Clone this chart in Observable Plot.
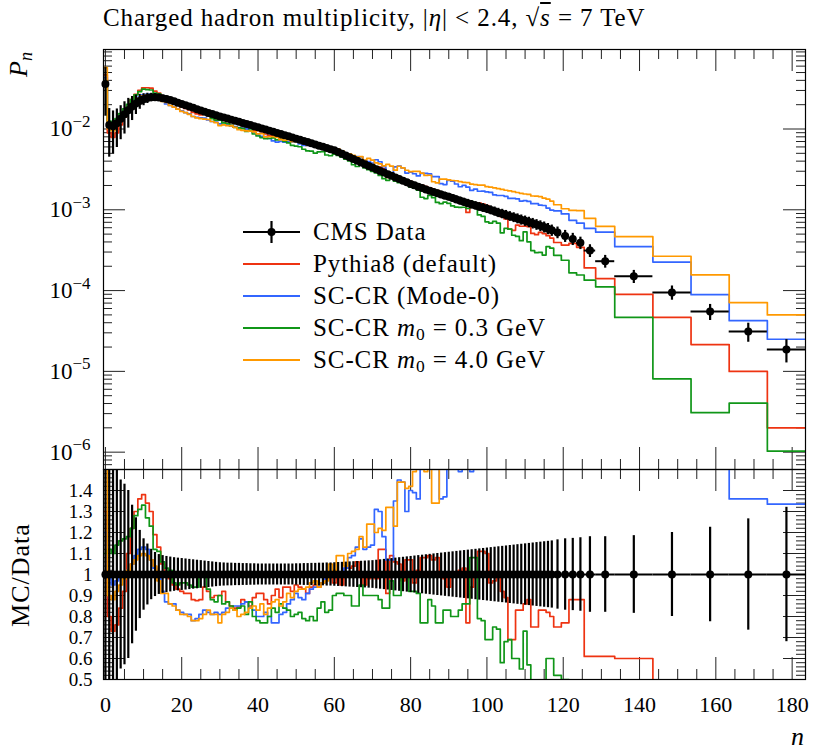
<!DOCTYPE html>
<html><head><meta charset="utf-8">
<script src="https://cdn.jsdelivr.net/npm/d3@7"></script>
<script src="https://cdn.jsdelivr.net/npm/@observablehq/plot@0.6"></script>
<style>
html,body{margin:0;padding:0;background:#fff;}
#wrap{position:relative;width:830px;height:750px;overflow:hidden;font-family:"Liberation Serif",serif;color:#000;}
#wrap svg{position:absolute;left:0;}
.lbl{position:absolute;white-space:nowrap;line-height:1;left:0;top:0;transform-origin:0 0;}
#title{left:103px;top:5px;font-size:25px;letter-spacing:0.9px;transform:none;}
.ov{text-decoration:overline;}
.leg{position:absolute;left:243px;height:32px;display:flex;align-items:center;font-size:25px;letter-spacing:0.9px;white-space:nowrap;}
.leg svg{position:static !important;margin-right:13px;}
sub{font-size:70%;vertical-align:-0.25em;line-height:0;}
</style></head>
<body><div id="wrap"></div>
<script>
// ---------------- data ----------------
const unitN = d3.range(0, 118);                       // unit bins n = 0..117
const wideEdges = [117.5,119.5,121.5,123.5,125.5,128.5,133.5,143.5,153.5,163.5,173.5,183.5];
const binLo = [...unitN.map(n => n - 0.5), ...wideEdges.slice(0, -1)];
const binHi = [...unitN.map(n => n + 0.5), ...wideEdges.slice(1)];

const dataP = [
 0.036, 0.0112, 0.0108, 0.0118, 0.0134, 0.0152, 0.0171, 0.0190, 0.0207, 0.0222,
 0.0234, 0.0242, 0.0247, 0.0248, 0.0246, 0.0241, 0.0235, 0.0228, 0.0220, 0.0212,
 0.0204, 0.0197, 0.0190, 0.0183, 0.0176, 0.0170, 0.0164, 0.0158, 0.0153, 0.0148,
 0.0143, 0.01387, 0.01345, 0.01304, 0.01264, 0.01226, 0.01189, 0.01153, 0.01118, 0.01084,
 0.0105, 0.01017, 0.00985, 0.00954, 0.00924, 0.00895, 0.00866, 0.00838, 0.00811, 0.00785,
 0.0076, 0.00735, 0.00711, 0.00688, 0.00665, 0.00643, 0.00622, 0.00601, 0.00581, 0.00562,
 0.00544, 0.00518, 0.00493, 0.00469, 0.00447, 0.00425, 0.00404, 0.00385, 0.00366, 0.00349,
 0.00333, 0.003176, 0.003027, 0.002888, 0.00276, 0.002637, 0.002513, 0.002402, 0.00229, 0.00219,
 0.002088, 0.002009, 0.001929, 0.001858, 0.001787, 0.001715, 0.00166, 0.001604, 0.001546, 0.001497,
 0.001447, 0.001397, 0.001345, 0.001294, 0.00125, 0.001206, 0.001166, 0.001127, 0.001094, 0.001061,
 0.001028, 0.000993, 0.000958, 0.000922, 0.000894, 0.000864, 0.000834, 0.000807, 0.00078, 0.000754,
 0.00073, 0.000705, 0.00068, 0.000656, 0.000633, 0.000611, 0.000584, 0.000558,
 0.000525, 0.000475, 0.000436, 0.000390, 0.000313, 0.000231, 0.000150, 0.0000950, 0.0000550, 0.0000312, 0.0000187
];
const dataErr = [
 0.60, 0.60, 0.55, 0.50, 0.45, 0.43, 0.40, 0.33, 0.27, 0.21,
 0.17, 0.145, 0.12, 0.105, 0.095, 0.09, 0.086, 0.083, 0.08, 0.078,
 0.076, 0.074, 0.072, 0.07, 0.068, 0.066, 0.064, 0.062, 0.06, 0.058,
 0.056, 0.055, 0.054, 0.054, 0.053, 0.053, 0.052, 0.052, 0.051, 0.051,
 0.05, 0.05, 0.05, 0.05, 0.05, 0.05, 0.05, 0.05, 0.05, 0.05,
 0.051, 0.051, 0.052, 0.052, 0.053, 0.053, 0.054, 0.054, 0.055, 0.055,
 0.056, 0.057, 0.058, 0.059, 0.06, 0.061, 0.062, 0.063, 0.064, 0.065,
 0.066, 0.068, 0.07, 0.072, 0.074, 0.076, 0.078, 0.08, 0.082, 0.084,
 0.086, 0.088, 0.09, 0.092, 0.094, 0.096, 0.098, 0.10, 0.102, 0.104,
 0.106, 0.108, 0.11, 0.112, 0.114, 0.116, 0.118, 0.12, 0.122, 0.124,
 0.126, 0.128, 0.13, 0.132, 0.134, 0.136, 0.138, 0.14, 0.142, 0.144,
 0.146, 0.148, 0.15, 0.152, 0.154, 0.156, 0.158, 0.16,
 0.165, 0.17, 0.172, 0.175, 0.18, 0.18, 0.185, 0.20, 0.225, 0.265, 0.32
];
// MC / Data ratios
const ratioPythia = [
 1.30, 0.80, 0.73, 0.76, 0.84, 0.92, 1.10, 1.22, 1.30, 1.36,
 1.38, 1.34, 1.30, 1.19, 1.13, 1.05, 1.01, 0.98, 0.95, 0.93,
 0.92, 0.91, 0.91, 0.88, 0.876, 0.88, 0.94, 0.92, 0.89, 0.90,
 0.90, 0.92, 0.87, 0.85, 0.84, 0.845, 0.88, 0.87, 0.85, 0.89,
 0.91, 0.91, 0.88, 0.86, 0.90, 0.93, 0.89, 0.94, 0.94, 0.92,
 0.95, 0.94, 0.93, 0.91, 0.94, 0.95, 0.94, 0.96, 0.98, 1.00,
 0.96, 0.99, 0.95, 1.03, 1.03, 1.04, 1.06, 1.00, 0.95, 0.98,
 1.01, 0.98, 1.12, 1.12, 0.91, 1.09, 1.06, 1.05, 0.97, 1.07,
 1.07, 0.96, 1.02, 1.08, 1.08, 1.09, 1.07, 1.08, 1.01, 0.98,
 0.94, 1.00, 0.99, 1.02, 1.03, 0.77, 0.94, 0.99, 1.11, 1.11,
 1.10, 0.96, 0.97, 0.99, 0.92, 0.89, 0.69, 0.69, 0.83, 0.83,
 0.86, 0.88, 0.75, 0.75, 0.83, 0.83, 0.82, 0.80,
 0.75, 0.77, 0.88, 0.88, 0.61, 0.61, 0.60, 0.49, 0.39, 0.32, 0.107
];
const ratioMode0 = [
 1.20, 0.98, 0.95, 0.97, 0.99, 1.00, 1.02, 1.05, 1.09, 1.12,
 1.13, 1.12, 1.07, 1.03, 0.99, 0.92, 0.87, 0.86, 0.86, 0.83,
 0.82, 0.81, 0.81, 0.78, 0.79, 0.81, 0.83, 0.82, 0.81, 0.82,
 0.81, 0.82, 0.84, 0.84, 0.85, 0.85, 0.86, 0.87, 0.84, 0.83,
 0.80, 0.80, 0.82, 0.80, 0.77, 0.77, 0.81, 0.82, 0.86, 0.88,
 0.91, 0.89, 0.88, 0.91, 0.93, 0.94, 0.95, 0.96, 1.00, 1.01,
 1.00, 0.99, 1.01, 1.03, 1.08, 1.09, 1.13, 1.17, 1.12, 1.13,
 1.14, 1.31, 1.30, 1.18, 1.07, 1.07, 1.35, 1.45, 1.44, 1.30,
 1.40, 1.39, 1.36, 1.52, 1.58, 1.62, 1.55, 1.60, 1.36, 1.37,
 1.60, 1.62, 1.55, 1.49, 1.60, 1.58, 1.49, 1.60, 1.55, 1.60,
 1.62, 1.65, 1.60, 1.63, 1.68, 1.70, 1.66, 1.72, 1.75, 1.70,
 1.78, 1.80, 1.75, 1.82, 1.80, 1.85, 1.80, 1.78,
 1.85, 1.87, 1.70, 1.75, 1.88, 2.29, 2.33, 2.37, 1.62, 1.36, 1.335
];
const ratioM03 = [
 1.10, 1.12, 1.10, 1.14, 1.16, 1.17, 1.18, 1.22, 1.28, 1.31,
 1.33, 1.27, 1.23, 1.12, 1.11, 1.06, 1.03, 1.02, 0.96, 0.95,
 0.96, 0.96, 0.95, 0.94, 0.94, 0.99, 0.99, 0.93, 0.88, 0.87,
 0.90, 0.86, 0.87, 0.85, 0.83, 0.84, 0.85, 0.81, 0.87, 0.80,
 0.78, 0.77, 0.77, 0.80, 0.84, 0.82, 0.86, 0.84, 0.83, 0.80,
 0.81, 0.82, 0.79, 0.78, 0.80, 0.78, 0.84, 0.87, 0.82, 0.83,
 0.90, 0.91, 0.91, 0.90, 0.90, 0.85, 0.85, 0.95, 0.90, 0.90,
 0.90, 0.90, 0.88, 0.84, 0.84, 0.97, 0.90, 0.90, 0.99, 0.99,
 0.92, 0.92, 0.91, 0.77, 0.77, 0.88, 0.85, 0.77, 0.77, 0.83,
 0.83, 0.80, 0.80, 0.83, 0.86, 0.86, 1.08, 1.08, 0.79, 0.78,
 0.69, 0.69, 0.75, 0.74, 0.58, 0.68, 0.69, 0.60, 0.60, 0.55,
 0.73, 0.57, 0.46, 0.45, 0.47, 0.45, 0.60, 0.60,
 0.52, 0.50, 0.38, 0.40, 0.43, 0.48, 0.31, 0.085, 0.056, 0.13, 0.055
];
const ratioM40 = [
 1.60, 0.90, 0.88, 0.92, 0.95, 0.98, 1.02, 1.05, 1.07, 1.09,
 1.10, 1.09, 1.07, 1.04, 0.97, 0.91, 0.91, 0.86, 0.85, 0.83,
 0.81, 0.81, 0.80, 0.78, 0.78, 0.79, 0.81, 0.83, 0.81, 0.81,
 0.77, 0.81, 0.82, 0.84, 0.83, 0.80, 0.81, 0.82, 0.84, 0.85,
 0.83, 0.86, 0.81, 0.84, 0.87, 0.88, 0.85, 0.87, 0.91, 0.89,
 0.92, 0.93, 0.93, 0.94, 0.96, 0.97, 0.94, 0.96, 0.97, 1.05,
 1.02, 1.09, 1.09, 1.04, 1.10, 1.11, 1.12, 1.18, 1.13, 1.24,
 1.24, 1.20, 1.22, 1.21, 1.32, 1.32, 1.23, 1.44, 1.44, 1.41,
 1.42, 1.49, 1.55, 1.53, 1.49, 1.56, 1.34, 1.34, 1.55, 1.60,
 1.62, 1.65, 1.70, 1.72, 1.75, 1.80, 1.78, 1.82, 1.85, 1.90,
 1.88, 1.92, 1.95, 1.98, 2.00, 2.02, 2.05, 2.08, 2.10, 2.12,
 2.15, 2.20, 2.18, 2.25, 2.30, 2.28, 2.32, 2.30,
 2.20, 2.17, 2.25, 2.50, 2.50, 2.70, 3.10, 2.80, 2.85, 2.28, 2.67
];
const seriesNames = ["Pythia8 (default)", "SC-CR (Mode-0)", "SC-CR <i>m</i><sub>0</sub> = 0.3 GeV", "SC-CR <i>m</i><sub>0</sub> = 4.0 GeV"];
const seriesColors = ["#EE3311", "#3366FF", "#109618", "#FF9900"];
const seriesRatios = [ratioPythia, ratioMode0, ratioM03, ratioM40];
const dataName = "CMS Data";
const xTickValues = [0, 20, 40, 60, 80, 100, 120, 140, 160, 180];
const yTickTop = [1e-6, 1e-5, 1e-4, 1e-3, 1e-2];
const yTickRatio = [0.5, 0.6, 0.7, 0.8, 0.9, 1, 1.1, 1.2, 1.3, 1.4];
const yTickRatioLabels = ["0.5", "0.6", "0.7", "0.8", "0.9", "1", "1.1", "1.2", "1.3", "1.4"];

// ---------------- derived tables ----------------
const bins = dataP.map((p, i) => ({lo: binLo[i], hi: binHi[i], x: (binLo[i] + binHi[i]) / 2, p, e: dataErr[i]}));
function steps(vals) {
  const pts = [];
  vals.forEach((v, i) => { pts.push({x: binLo[i], y: v}, {x: binHi[i], y: v}); });
  return pts;
}
const mcTop = seriesRatios.map(r => r.map((v, i) => v * dataP[i]));

// tick positions (frame ticks, inward, on all four sides)
const xMinor = d3.range(5, 184, 5).filter(d => d % 20 !== 0);
const yMinorTop = [];
for (let k = -7; k <= -1; k++) for (let m = 2; m <= 9; m++) { const v = m * Math.pow(10, k); if (v > 6.1e-7 && v < 0.0964) yMinorTop.push(v); }
const yMajRatio = d3.range(0, 11).map(i => 0.5 + i / 10);
const yMinRatio = d3.range(0, 51).map(i => 0.5 + i / 50);

const W = 830, ML = 103, MR = 25, innerW = W - ML - MR;
const topH = 469, topMT = 49, topInner = topH - topMT;
const botH = 281, botMB = 71, botInner = botH - botMB;
const xDomain = [-0.5, 183.5];
const tickColor = "#222";

function xFrameTicks(inner) {
  return [
    Plot.tickX(xTickValues, {x: d => d, insetBottom: inner - 22, stroke: tickColor}),
    Plot.tickX(xTickValues, {x: d => d, insetTop: inner - 22, stroke: tickColor}),
    Plot.tickX(xMinor, {x: d => d, insetBottom: inner - 10, stroke: tickColor}),
    Plot.tickX(xMinor, {x: d => d, insetTop: inner - 10, stroke: tickColor})
  ];
}
function yFrameTicks(maj, min) {
  return [
    Plot.tickY(maj, {y: d => d, insetRight: innerW - 22, stroke: tickColor}),
    Plot.tickY(maj, {y: d => d, insetLeft: innerW - 22, stroke: tickColor}),
    Plot.tickY(min, {y: d => d, insetRight: innerW - 9, stroke: tickColor}),
    Plot.tickY(min, {y: d => d, insetLeft: innerW - 9, stroke: tickColor})
  ];
}
const style = {fontFamily: "'Liberation Serif', serif", fontSize: "22px", background: "transparent", overflow: "visible", color: "#000"};

const topPlot = Plot.plot({
  width: W, height: topH, marginTop: topMT, marginBottom: 0, marginLeft: ML, marginRight: MR,
  x: {domain: xDomain, axis: null, label: null},
  y: {type: "log", domain: [6.1e-7, 0.0964], label: null},
  style,
  marks: [
    ...xFrameTicks(topInner),
    ...yFrameTicks(yTickTop, yMinorTop),
    ...mcTop.map((vals, i) => Plot.line(steps(vals), {x: "x", y: "y", stroke: seriesColors[i], strokeWidth: 1.7, clip: true})),
    Plot.ruleX(bins, {x: "x", y1: d => d.p * (1 - d.e), y2: d => d.p * (1 + d.e), stroke: "#000", strokeWidth: 2.2, clip: true}),
    Plot.ruleY(bins, {y: "p", x1: "lo", x2: "hi", stroke: "#000", strokeWidth: 2}),
    Plot.dot(bins, {x: "x", y: "p", r: 4, fill: "#000"}),
    Plot.axisY({ticks: yTickTop, tickSize: 0, tickPadding: 13, label: null, fontSize: 23, tickFormat: d => String(Math.round(Math.log10(d)))}),
    Plot.frame({stroke: "#000", strokeWidth: 1.2})
  ]
});

const botPlot = Plot.plot({
  width: W, height: botH, marginTop: 0, marginBottom: botMB, marginLeft: ML, marginRight: MR,
  x: {domain: xDomain, label: null},
  y: {domain: [0.5, 1.5], label: null},
  style,
  marks: [
    ...xFrameTicks(botInner),
    ...yFrameTicks(yMajRatio, yMinRatio),
    ...seriesRatios.map((vals, i) => Plot.line(steps(vals), {x: "x", y: "y", stroke: seriesColors[i], strokeWidth: 1.7, clip: true})),
    Plot.ruleX(bins, {x: "x", y1: d => 1 - d.e, y2: d => 1 + d.e, stroke: "#000", strokeWidth: 2.2, clip: true}),
    Plot.ruleY(bins, {y: () => 1, x1: "lo", x2: "hi", stroke: "#000", strokeWidth: 2}),
    Plot.dot(bins, {x: "x", y: () => 1, r: 4, fill: "#000"}),
    Plot.axisY({ticks: yTickRatio, tickSize: 0, tickPadding: 11, label: null, fontSize: 19, tickFormat: d => yTickRatioLabels[yTickRatio.indexOf(d)]}),
    Plot.axisX({ticks: xTickValues, tickSize: 0, tickPadding: 17, label: null, fontSize: 22, tickFormat: d => String(d)}),
    Plot.frame({stroke: "#000", strokeWidth: 1.2})
  ]
});

// superscript exponents on the log axis labels
d3.select(topPlot).selectAll('[aria-label="y-axis tick label"] text').each(function () {
  const k = Number(this.textContent);
  const t = d3.select(this);
  t.text(null);
  t.append("tspan").text("10");
  t.append("tspan").attr("dy", "-0.55em").attr("font-size", "17px").text("\u2212" + String(-k));
});

const wrap = document.getElementById("wrap");
topPlot.style.top = "0px";
botPlot.style.top = topH + "px";
wrap.appendChild(topPlot);
wrap.appendChild(botPlot);

// title and axis titles
function addLabel(html, css, transform) {
  const d = document.createElement("div");
  d.className = "lbl";
  d.innerHTML = html;
  Object.assign(d.style, css);
  if (transform) d.style.transform = transform;
  wrap.appendChild(d);
  return d;
}
const title = document.createElement("div");
title.id = "title"; title.className = "lbl";
title.innerHTML = 'Charged hadron multiplicity, |<i>η</i>| &lt; 2.4, √<span class="ov"><i>s</i></span> = 7 TeV';
wrap.appendChild(title);
addLabel('<i>P</i><sub><i>n</i></sub>', {fontSize: "26px"}, "translate(19px, 52px) rotate(-90deg) translate(-100%, -50%)");
addLabel('MC/Data', {fontSize: "26px", letterSpacing: "1px"}, "translate(21px, 575px) rotate(-90deg) translate(-50%, -50%)");
addLabel('<i>n</i>', {fontSize: "26px"}, "translate(804px, 724px) translate(-100%, 0)");

// legend
const legendRows = [{name: dataName, color: "#000", data: true}, ...seriesNames.map((n, i) => ({name: n, color: seriesColors[i]}))];
legendRows.forEach((r, i) => {
  const row = document.createElement("div");
  row.className = "leg";
  row.style.top = (216 + 32 * i) + "px";
  const sample = r.data
    ? `<svg width="57" height="24"><line x1="0" x2="57" y1="12" y2="12" stroke="#000" stroke-width="2.2"/><line x1="28.5" x2="28.5" y1="1" y2="23" stroke="#000" stroke-width="2.2"/><circle cx="28.5" cy="12" r="4" fill="#000"/></svg>`
    : `<svg width="57" height="24"><line x1="0" x2="57" y1="12" y2="12" stroke="${r.color}" stroke-width="1.8"/></svg>`;
  row.innerHTML = sample + `<span>${r.name}</span>`;
  wrap.appendChild(row);
});
</script>
</body></html>
